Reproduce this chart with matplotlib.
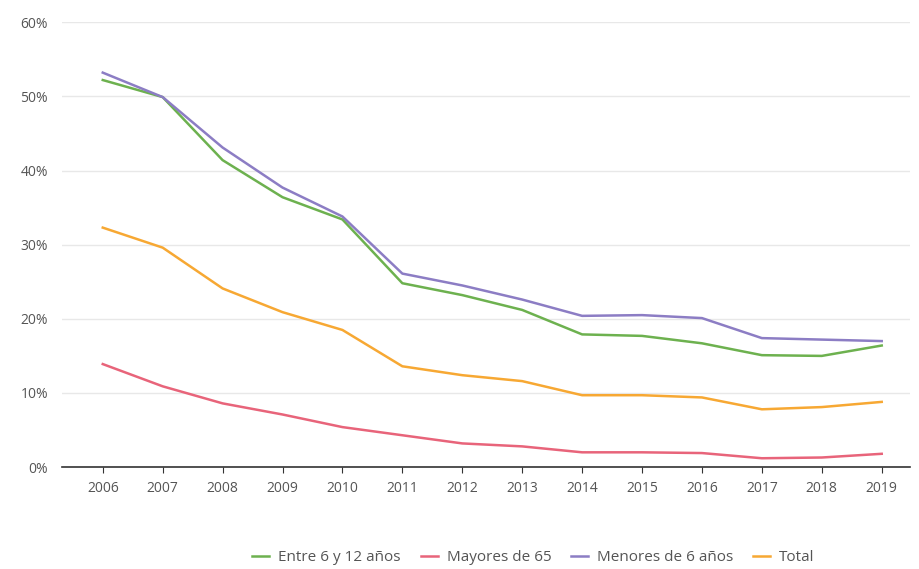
import matplotlib.pyplot as plt
from matplotlib.ticker import FuncFormatter

# data (percent)
years = list(range(2006, 2020))
entre_6_12 = [52.2, 49.9, 41.4, 36.4, 33.4, 24.8, 23.2, 21.2, 17.9, 17.7, 16.7, 15.1, 15.0, 16.4]
mayores_65 = [13.9, 10.9, 8.6, 7.1, 5.4, 4.3, 3.2, 2.8, 2.0, 2.0, 1.9, 1.2, 1.3, 1.8]
menores_6 = [53.2, 49.9, 43.1, 37.7, 33.8, 26.1, 24.5, 22.6, 20.4, 20.5, 20.1, 17.4, 17.2, 17.0]
total = [32.3, 29.6, 24.1, 20.9, 18.5, 13.6, 12.4, 11.6, 9.7, 9.7, 9.4, 7.8, 8.1, 8.8]

series = [
    ("Entre 6 y 12 años", entre_6_12, "#6db14f"),
    ("Mayores de 65", mayores_65, "#e8647a"),
    ("Menores de 6 años", menores_6, "#8c7dc4"),
    ("Total", total, "#f7a833"),
]

plt.rcParams['font.family'] = ['Open Sans', 'DejaVu Sans']
text_col = '#555555'

fig = plt.figure(figsize=(9.2, 5.69), dpi=100)
ax = fig.add_axes([0.0674, 0.179, 0.9216, 0.782])

for name, vals, col in series:
    ax.plot(years, vals, color=col, lw=1.8, label=name)

ax.set_ylim(0, 60)
ax.set_xlim(2005.32, 2019.47)
ax.set_yticks(range(0, 61, 10))
ax.yaxis.set_major_formatter(FuncFormatter(lambda v, p: f"{v:.0f}%"))
ax.set_xticks(years)
ax.grid(axis='y', color='#e8e8e8', lw=1)
ax.set_axisbelow(True)

for s in ['top', 'right', 'left']:
    ax.spines[s].set_visible(False)
ax.spines['bottom'].set_color('#333333')
ax.spines['bottom'].set_linewidth(1.2)
ax.tick_params(axis='y', length=0, labelsize=10, labelcolor=text_col, pad=10)
ax.tick_params(axis='x', length=4, color='#333333', labelsize=10, labelcolor=text_col, pad=6)

fig.legend(loc='center', bbox_to_anchor=(0.58, 0.02), ncol=4, frameon=False,
           fontsize=11, handlelength=1.1, handletextpad=0.6, columnspacing=1.3,
           labelcolor=text_col)

fig.savefig("out.png", dpi=100)
